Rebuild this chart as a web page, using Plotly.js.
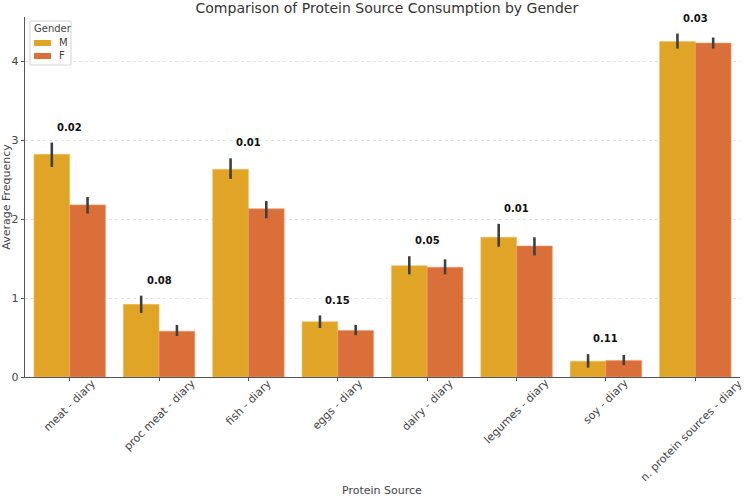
<!DOCTYPE html>
<html>
<head>
<meta charset="utf-8">
<script src="https://cdn.plot.ly/plotly-3.0.1.min.js"></script>
<style>
  html, body { margin: 0; padding: 0; background: #fff; }
  #chart { width: 744px; height: 496px; }
</style>
</head>
<body>
<div id="chart"></div>
<script>
const categories = [
  'meat - diary', 'proc meat - diary', 'fish - diary', 'eggs - diary',
  'dairy - diary', 'legumes - diary', 'soy - diary', 'n. protein sources - diary',
];

// mean values per gender
const maleMeans = [2.82, 0.92, 2.63, 0.70, 1.41, 1.77, 0.20, 4.25];
const femaleMeans = [2.18, 0.58, 2.13, 0.59, 1.39, 1.66, 0.21, 4.23];

// confidence interval bounds
const maleUpper = [2.97, 1.03, 2.77, 0.78, 1.53, 1.94, 0.29, 4.35];
const maleLower = [2.66, 0.81, 2.51, 0.62, 1.30, 1.65, 0.12, 4.16];
const femaleUpper = [2.28, 0.66, 2.23, 0.66, 1.49, 1.77, 0.28, 4.30];
const femaleLower = [2.07, 0.52, 2.01, 0.53, 1.30, 1.54, 0.15, 4.16];

// p-values shown above each pair
const pValues = ['0.02', '0.08', '0.01', '0.15', '0.05', '0.01', '0.11', '0.03'];

const seriesNames = ['M', 'F'];
const colors = ['#E0A526', '#DB6F3A'];

const FONT = 'DejaVu Sans';
const TEXT = '#444';

// plot area in pixels, used only to place the hand drawn legend
const plotLeft = 25;
const plotRight = 740;
const plotTop = 17;
const plotBottom = 377;
const px = (x) => (x - plotLeft) / (plotRight - plotLeft);
const py = (y) => (plotBottom - y) / (plotBottom - plotTop);

function errorBars(means, upper, lower) {
  return {
    type: 'data',
    symmetric: false,
    array: upper.map((u, i) => u - means[i]),
    arrayminus: means.map((m, i) => m - lower[i]),
    color: '#3f3f3f',
    thickness: 2.6,
    width: 0,
  };
}

const traces = [
  {
    type: 'bar',
    name: seriesNames[0],
    x: categories,
    y: maleMeans,
    marker: { color: colors[0], line: { color: '#f0c060', width: 0.6 } },
    error_y: errorBars(maleMeans, maleUpper, maleLower),
  },
  {
    type: 'bar',
    name: seriesNames[1],
    x: categories,
    y: femaleMeans,
    marker: { color: colors[1], line: { color: '#ec9a70', width: 0.6 } },
    error_y: errorBars(femaleMeans, femaleUpper, femaleLower),
  },
];

const annotations = [];

// p-value labels
categories.forEach((cat, i) => {
  annotations.push({
    x: cat,
    y: Math.max(maleUpper[i], femaleUpper[i]) + 0.1,
    xref: 'x',
    yref: 'y',
    text: `<b>${pValues[i]}</b>`,
    showarrow: false,
    yanchor: 'bottom',
    font: { family: FONT, size: 10, color: '#111' },
  });
});

// rotated category labels, centred under the tick like matplotlib
categories.forEach((cat, i) => {
  annotations.push({
    x: cat,
    y: 0,
    xref: 'x',
    yref: 'paper',
    text: cat,
    textangle: -45,
    showarrow: false,
    xanchor: 'center',
    yanchor: 'top',
    yshift: 3,
    // keep the long last label inside the frame
    xshift: i === categories.length - 1 ? -4 : 0,
    font: { family: FONT, size: 11, color: TEXT },
  });
});

annotations.push({
  x: px(382),
  y: py(490),
  xref: 'paper',
  yref: 'paper',
  text: 'Protein Source',
  showarrow: false,
  xanchor: 'center',
  yanchor: 'middle',
  font: { family: FONT, size: 11, color: TEXT },
});

// legend
const shapes = [
  {
    type: 'rect',
    xref: 'paper',
    yref: 'paper',
    x0: px(30),
    x1: px(71),
    y0: py(65),
    y1: py(21),
    fillcolor: 'rgba(255,255,255,0.9)',
    line: { color: '#d4d4d4', width: 1 },
  },
];
annotations.push({
  x: px(32),
  y: py(29),
  xref: 'paper',
  yref: 'paper',
  text: 'Gender',
  showarrow: false,
  xanchor: 'left',
  yanchor: 'middle',
  font: { family: FONT, size: 10, color: TEXT },
});
seriesNames.forEach((name, i) => {
  const mid = 43 + i * 13;
  shapes.push({
    type: 'rect',
    xref: 'paper',
    yref: 'paper',
    x0: px(34),
    x1: px(51),
    y0: py(mid + 3),
    y1: py(mid - 3),
    fillcolor: colors[i],
    line: { width: 0 },
  });
  annotations.push({
    x: px(57),
    y: py(mid),
    xref: 'paper',
    yref: 'paper',
    text: name,
    showarrow: false,
    xanchor: 'left',
    yanchor: 'middle',
    font: { family: FONT, size: 10, color: TEXT },
  });
});

const layout = {
  width: 744,
  height: 496,
  margin: { l: plotLeft, r: 744 - plotRight, t: plotTop, b: 496 - plotBottom },
  paper_bgcolor: '#fff',
  plot_bgcolor: '#fff',
  font: { family: FONT, size: 11, color: TEXT },
  title: {
    text: 'Comparison of Protein Source Consumption by Gender',
    font: { family: FONT, size: 14, color: '#333' },
    x: 0.52,
    xanchor: 'center',
    y: 0.993,
    yanchor: 'top',
  },
  barmode: 'group',
  bargap: 0.2,
  bargroupgap: 0,
  showlegend: false,
  xaxis: {
    type: 'category',
    range: [-0.5, categories.length - 0.5],
    showticklabels: false,
    showline: true,
    linecolor: '#555',
    linewidth: 1.2,
    ticks: 'outside',
    ticklen: 3,
    tickcolor: '#555',
    automargin: false,
  },
  yaxis: {
    range: [0, 4.56],
    tickvals: [0, 1, 2, 3, 4],
    showline: true,
    linecolor: '#555',
    linewidth: 1.2,
    ticks: 'outside',
    ticklen: 3,
    tickcolor: '#555',
    showgrid: true,
    gridcolor: '#e2e2e2',
    griddash: 'dot',
    gridwidth: 1,
    zeroline: false,
    tickfont: { size: 11, color: TEXT },
    title: {
      text: 'Average Frequency',
      font: { size: 11, color: TEXT },
      standoff: 2,
    },
    automargin: false,
  },
  shapes,
  annotations,
};

Plotly.newPlot('chart', traces, layout, { displayModeBar: false, staticPlot: true });
</script>
</body>
</html>
